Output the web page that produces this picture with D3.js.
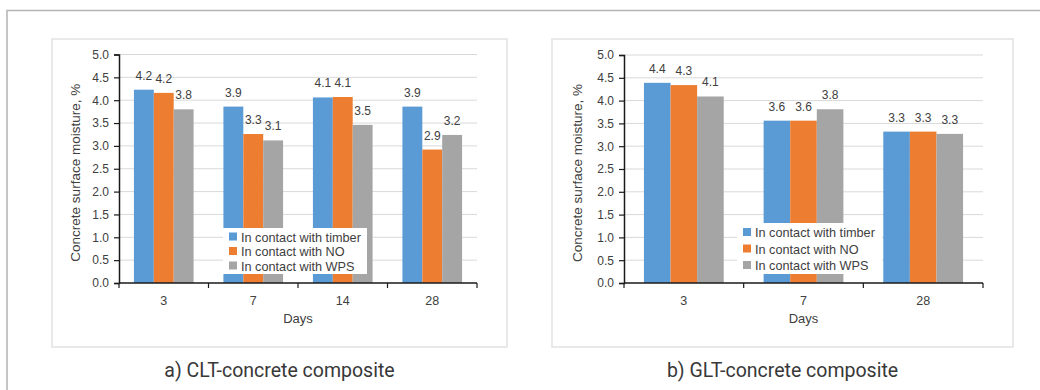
<!DOCTYPE html>
<html>
<head>
<meta charset="utf-8">
<script src="https://d3js.org/d3.v7.min.js"></script>
<style>
  body { margin: 0; background: #fff; }
  svg text { font-family: "Liberation Sans", Arial, sans-serif; fill: #404040; }
  svg text.caption { font-family: Roboto, "Liberation Sans", sans-serif; font-weight: 400; fill: #383838; }
</style>
</head>
<body>
<div id="chart"></div>
<script>
// series names and colours
var seriesNames = ["In contact with timber", "In contact with NO", "In contact with WPS"];
var seriesColors = ["#5b9bd5", "#ed7d31", "#a5a5a5"];

// a) CLT-concrete composite
var cltDays = ["3", "7", "14", "28"];
var cltTimber = [4.23, 3.86, 4.06, 3.86];
var cltNO = [4.16, 3.26, 4.07, 2.92];
var cltWPS = [3.80, 3.12, 3.46, 3.24];

// b) GLT-concrete composite
var gltDays = ["3", "7", "28"];
var gltTimber = [4.39, 3.56, 3.32];
var gltNO = [4.34, 3.56, 3.32];
var gltWPS = [4.09, 3.81, 3.27];

var yTicks = [0, 0.5, 1, 1.5, 2, 2.5, 3, 3.5, 4, 4.5, 5];

var svg = d3.select("#chart").append("svg")
    .attr("width", 1040)
    .attr("height", 390);

// outer frame (only top and left edges are visible)
svg.append("path")
    .attr("d", "M7,390 L7,10.5 L1040,10.5")
    .attr("fill", "none")
    .attr("stroke", "#b4b4b4")
    .attr("stroke-width", 1.5);

function drawPanel(cfg) {
    var g = svg.append("g");

    // panel box
    g.append("rect")
        .attr("x", cfg.box[0]).attr("y", cfg.box[1])
        .attr("width", cfg.box[2] - cfg.box[0]).attr("height", cfg.box[3] - cfg.box[1])
        .attr("fill", "#fff")
        .attr("stroke", "#e2e2e2")
        .attr("stroke-width", 1.5);

    var y = d3.scaleLinear().domain([0, 5]).range([cfg.y0, cfg.yTop]);
    var x = d3.scaleBand().domain(cfg.days).range([cfg.x0, cfg.x1])
        .paddingInner(1 / 3).paddingOuter(1 / 6);
    var xs = d3.scaleBand().domain([0, 1, 2]).range([0, x.bandwidth()]);
    var cat = d3.scaleBand().domain(cfg.days).range([cfg.x0, cfg.x1]);

    // gridlines
    g.selectAll("line.grid")
        .data(yTicks.slice(1))
        .enter().append("line")
        .attr("class", "grid")
        .attr("x1", cfg.x0).attr("x2", cfg.x1)
        .attr("y1", function (d) { return y(d); })
        .attr("y2", function (d) { return y(d); })
        .attr("stroke", "#d9d9d9")
        .attr("stroke-width", 1);

    var rows = cfg.days.map(function (d, i) {
        return { day: d, vals: [cfg.s[0][i], cfg.s[1][i], cfg.s[2][i]] };
    });

    var groups = g.selectAll("g.grp")
        .data(rows)
        .enter().append("g")
        .attr("class", "grp")
        .attr("transform", function (d) { return "translate(" + x(d.day) + ",0)"; });

    groups.selectAll("rect")
        .data(function (d) { return d.vals; })
        .enter().append("rect")
        .attr("x", function (d, i) { return xs(i); })
        .attr("width", xs.bandwidth())
        .attr("y", function (d) { return y(d); })
        .attr("height", function (d) { return cfg.y0 - y(d); })
        .attr("fill", function (d, i) { return seriesColors[i]; });

    groups.selectAll("text")
        .data(function (d) { return d.vals; })
        .enter().append("text")
        .attr("x", function (d, i) { return xs(i) + xs.bandwidth() / 2; })
        .attr("y", function (d) { return y(d) - 10; })
        .attr("text-anchor", "middle")
        .style("font-size", "12px")
        .text(function (d) { return d.toFixed(1); });

    // y axis
    var yAxis = d3.axisLeft(y).tickValues(yTicks).tickSize(5).tickPadding(5)
        .tickFormat(d3.format(".1f"));
    var ya = g.append("g").attr("transform", "translate(" + cfg.x0 + ",0)").call(yAxis);
    ya.select(".domain").attr("stroke", "#1a1a1a").attr("stroke-width", 1.5);
    ya.selectAll(".tick line").attr("stroke", "#1a1a1a").attr("stroke-width", 1.2);
    ya.selectAll(".tick text").style("font-size", "12px").attr("fill", "#404040")
        .style("font-family", "Liberation Sans, Arial, sans-serif");

    // x axis: labels at category centres, ticks at category edges
    var xa = g.append("g").attr("transform", "translate(0," + cfg.y0 + ")");
    xa.append("line")
        .attr("x1", cfg.x0).attr("x2", cfg.x1)
        .attr("stroke", "#1a1a1a").attr("stroke-width", 1.5);
    var edges = cfg.days.map(function (d) { return cat(d); }).concat([cfg.x1]);
    xa.selectAll("line.tk")
        .data(edges)
        .enter().append("line")
        .attr("class", "tk")
        .attr("x1", function (d) { return d; }).attr("x2", function (d) { return d; })
        .attr("y1", 0).attr("y2", 5)
        .attr("stroke", "#1a1a1a").attr("stroke-width", 1.2);
    xa.selectAll("text")
        .data(cfg.days)
        .enter().append("text")
        .attr("x", function (d) { return x(d) + x.bandwidth() / 2; })
        .attr("y", 22)
        .attr("text-anchor", "middle")
        .style("font-size", "12.5px")
        .text(function (d) { return d; });

    g.append("text")
        .attr("x", (cfg.x0 + cfg.x1) / 2)
        .attr("y", cfg.y0 + 40)
        .attr("text-anchor", "middle")
        .style("font-size", "13px")
        .text("Days");

    g.append("text")
        .attr("transform", "translate(" + cfg.titleX + "," + ((cfg.y0 + cfg.yTop) / 2 + 4) + ") rotate(-90)")
        .attr("text-anchor", "middle")
        .style("font-size", "13.5px")
        .text("Concrete surface moisture, %");

    // legend
    var lg = g.append("g").attr("transform", "translate(" + cfg.legend.x + "," + cfg.legend.y + ")");
    lg.append("rect")
        .attr("width", cfg.legend.w).attr("height", cfg.legend.h)
        .attr("fill", "#fff");
    var items = lg.selectAll("g.item")
        .data(seriesNames)
        .enter().append("g")
        .attr("class", "item")
        .attr("transform", function (d, i) {
            return "translate(6," + (cfg.legend.first + i * cfg.legend.step) + ")";
        });
    items.append("rect")
        .attr("x", 0).attr("y", -4)
        .attr("width", 8).attr("height", 8)
        .attr("fill", function (d, i) { return seriesColors[i]; });
    items.append("text")
        .attr("x", 12).attr("y", 5)
        .style("font-size", "12.7px")
        .text(function (d) { return d; });

    // caption
    svg.append("text")
        .attr("class", "caption")
        .attr("x", (cfg.box[0] + cfg.box[2]) / 2)
        .attr("y", 377)
        .attr("text-anchor", "middle")
        .style("font-size", "19.5px")
        .text(cfg.caption);
}

drawPanel({
    box: [52, 39, 507, 347],
    x0: 119, x1: 477, y0: 283, yTop: 54.5,
    titleX: 80,
    days: cltDays,
    s: [cltTimber, cltNO, cltWPS],
    legend: { x: 223, y: 228, w: 144, h: 46, first: 8.5, step: 14.5 },
    caption: "a) CLT-concrete composite"
});

drawPanel({
    box: [552, 39, 1013, 347],
    x0: 624, x1: 983, y0: 283, yTop: 55,
    titleX: 582,
    days: gltDays,
    s: [gltTimber, gltNO, gltWPS],
    legend: { x: 737, y: 223, w: 145, h: 51, first: 9, step: 16.5 },
    caption: "b) GLT-concrete composite"
});
</script>
</body>
</html>
